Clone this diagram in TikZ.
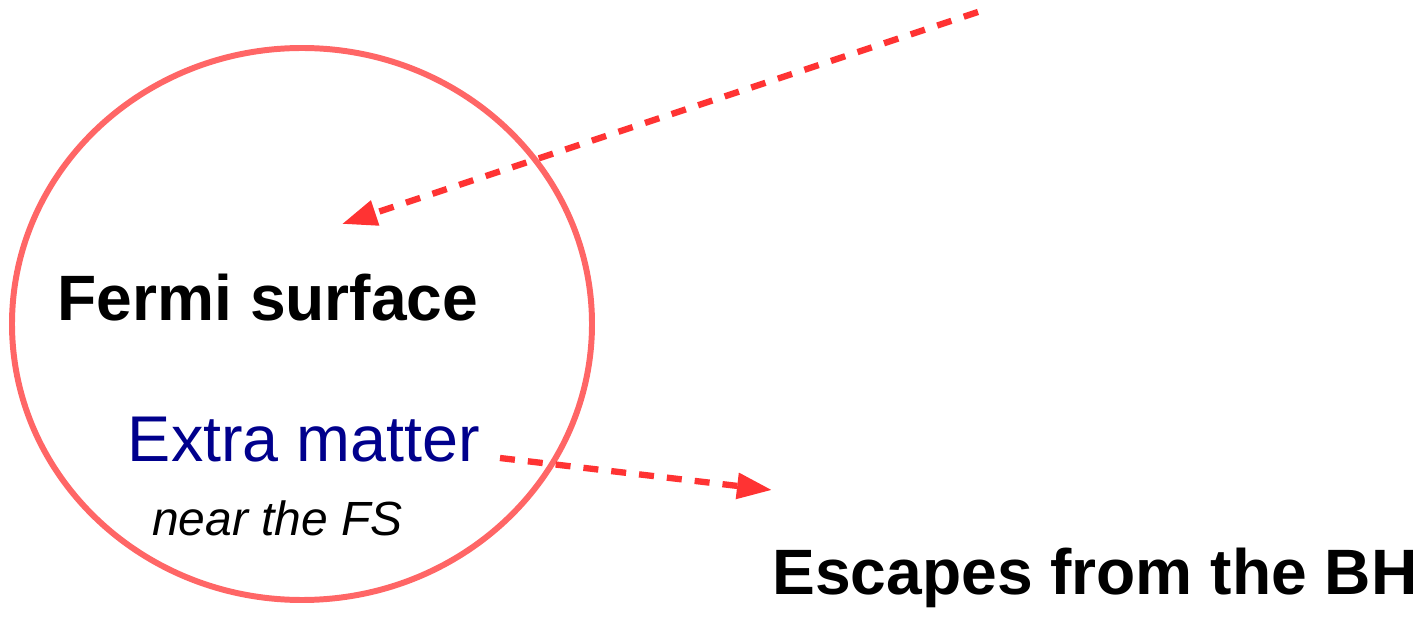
\documentclass[tikz,border=0pt]{standalone}
\usepackage{fontspec}
\setmainfont{Liberation Sans}
\usetikzlibrary{positioning,arrows.meta}
\definecolor{FsRim}{RGB}{255,102,102}
\definecolor{FsArrow}{RGB}{255,51,51}
\definecolor{FsNavy}{RGB}{0,0,140}
\tikzset{
  fs rim/.style={draw=FsRim, line width=3.4pt},
  fs arrow/.style={-{Triangle[length=0.7cm,width=0.5cm]}, FsArrow, line width=3.6pt,
    dash pattern=on 0.3cm off 0.26cm},
  fs title/.style={font=\fontsize{36.5}{42}\selectfont\bfseries, text=black, inner sep=0pt},
  fs extra/.style={font=\fontsize{36.8}{42}\selectfont, text=FsNavy, inner sep=0pt},
  fs note/.style={font=\fontsize{27.3}{32}\selectfont\itshape, text=black, inner sep=0pt}
}
\begin{document}
\begin{tikzpicture}
\useasboundingbox (0,0) rectangle (28.48,12.32);
% Fermi surface
\draw[fs rim] (6.04,5.84) ellipse [x radius=5.8cm, y radius=5.52cm];
\node[fs title] (fermi) at (5.36,6.36) {Fermi surface};
\node[fs extra] (extra) at (6.08,3.52) {Extra matter};
\node[fs note] (near) at (5.55,1.96) {near the FS};
\node[fs title] (escape) at (21.9,0.76) {Escapes from the BH};
% arrows
\coordinate (inStart) at (19.56,12.08);
\coordinate (inTip) at (6.84,7.84);
\coordinate (outStart) at (10.0,3.16);
\coordinate (outTip) at (15.44,2.52);
\draw[fs arrow] (inStart) -- (inTip);
\draw[fs arrow] (outStart) -- (outTip);
\end{tikzpicture}
\end{document}
